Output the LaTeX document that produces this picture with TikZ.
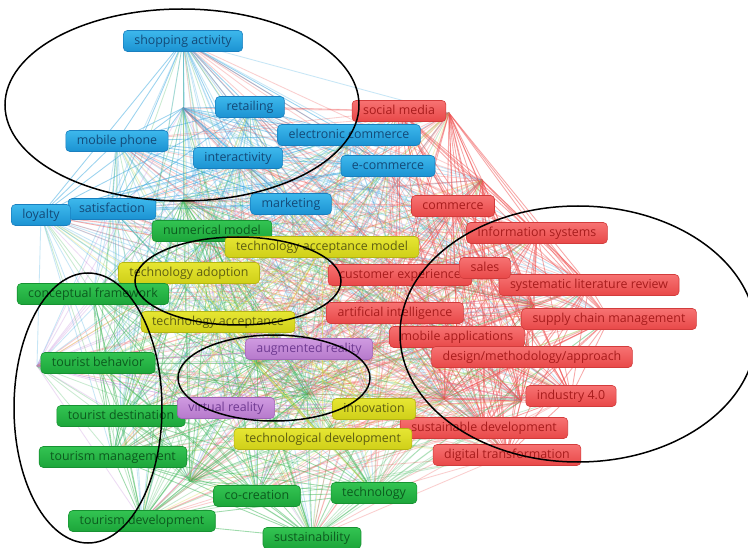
\documentclass[tikz,border=0pt]{standalone}
\usepackage{fontspec}
\newfontfamily\osans{Open Sans}
\pgfdeclarelayer{bg}
\pgfsetlayers{bg,main}
\definecolor{btop}{HTML}{3DB8EC}\definecolor{bbot}{HTML}{1B92D2}\definecolor{bdraw}{HTML}{1A7FBF}\definecolor{btext}{HTML}{134A78}
\definecolor{rtop}{HTML}{F77272}\definecolor{rbot}{HTML}{E84848}\definecolor{rdraw}{HTML}{D23C3C}\definecolor{rtext}{HTML}{A81C1C}
\definecolor{gtop}{HTML}{33C452}\definecolor{gbot}{HTML}{1CA53A}\definecolor{gdraw}{HTML}{179232}\definecolor{gtext}{HTML}{0C5A1E}
\definecolor{ytop}{HTML}{E6E633}\definecolor{ybot}{HTML}{CFCF18}\definecolor{ydraw}{HTML}{B5B512}\definecolor{ytext}{HTML}{5E5E12}
\definecolor{ptop}{HTML}{CF9AE0}\definecolor{pbot}{HTML}{B679CC}\definecolor{pdraw}{HTML}{A065B8}\definecolor{ptext}{HTML}{6F3A92}
\definecolor{eb}{HTML}{38A8E0}\definecolor{er}{HTML}{F05050}\definecolor{eg}{HTML}{40B85A}\definecolor{ey}{HTML}{D8D830}\definecolor{ep}{HTML}{C080D8}
\tikzset{
  lab/.style={rounded corners=4pt, minimum height=21pt, inner xsep=11pt, inner ysep=0pt,
    text height=8.6pt, text depth=2.4pt, font={\osans\fontsize{12.4pt}{14pt}\selectfont}, line width=0.6pt},
  bl/.style={lab, draw=bdraw, top color=btop, bottom color=bbot, text=btext},
  rd/.style={lab, draw=rdraw, top color=rtop, bottom color=rbot, text=rtext},
  gr/.style={lab, draw=gdraw, top color=gtop, bottom color=gbot, text=gtext},
  yl/.style={lab, draw=ydraw, top color=ytop, bottom color=ybot, text=ytext},
  pu/.style={lab, draw=pdraw, top color=ptop, bottom color=pbot, text=ptext},
  edge/.style={line width=0.85pt},
  ring/.style={draw=black, line width=1.5pt}
}
\begin{document}
\begin{tikzpicture}[x=1pt,y=-1pt]
\useasboundingbox (0,0) rectangle (748,548);
% hidden node centres
\coordinate (hb1) at (183,108);
\coordinate (hg1) at (183,200);
\coordinate (hr1) at (482,180);
\coordinate (hr2) at (449,113);
\coordinate (hp1) at (37,366);
\coordinate (hg2) at (257,363);
\coordinate (hg3) at (307,394);
\coordinate (hg4) at (190,481);
\coordinate (hr3) at (533,305);
\coordinate (hr4) at (444,399);
\coordinate (hr5) at (521,401);
% labels
\node[bl] (shop) at (183,41) {shopping activity};
\node[bl] (retail) at (250,107) {retailing};
\node[rd] (social) at (399,111) {social media};
\node[bl] (elcom) at (349,135) {electronic commerce};
\node[bl] (mobph) at (117,141) {mobile phone};
\node[bl] (inter) at (238,158) {interactivity};
\node[bl] (ecom) at (388,166) {e-commerce};
\node[bl] (satis) at (112,209) {satisfaction};
\node[bl] (loyal) at (41,215) {loyalty};
\node[bl] (mkt) at (291,204) {marketing};
\node[rd] (comm) at (453,206) {commerce};
\node[gr] (nummod) at (212,231) {numerical model};
\node[rd] (infos) at (537,233) {information systems};
\node[yl] (tam) at (322,247) {technology acceptance model};
\node[rd] (custx) at (400,275) {customer experience};
\node[rd] (slr) at (589,285) {systematic literature review};
\node[rd] (sales) at (485,268) {sales};
\node[yl] (tadopt) at (189,273) {technology adoption};
\node[gr] (concept) at (93,294) {conceptual framework};
\node[rd] (ai) at (395,313) {artificial intelligence};
\node[rd] (scm) at (609,319) {supply chain management};
\node[yl] (tacc) at (218,322) {technology acceptance};
\node[rd] (mobapp) at (457,337) {mobile applications};
\node[pu] (ar) at (309,349) {augmented reality};
\node[rd] (dma) at (532,357) {design/methodology/approach};
\node[gr] (tbeh) at (98,363) {tourist behavior};
\node[rd] (ind) at (571,396) {industry 4.0};
\node[gr] (tdest) at (121,416) {tourist destination};
\node[pu] (vr) at (226,408) {virtual reality};
\node[rd] (susdev) at (484,428) {sustainable development};
\node[yl] (innov) at (374,409) {innovation};
\node[yl] (techdev) at (323,439) {technological development};
\node[gr] (tman) at (113,457) {tourism management};
\node[rd] (digtr) at (507,455) {digital transformation};
\node[gr] (cocr) at (257,496) {co-creation};
\node[gr] (techn) at (374,493) {technology};
\node[gr] (tdev) at (142,521) {tourism development};
\node[gr] (sust) at (312,538) {sustainability};
% connectors
\def\nodelist{shop/eb,retail/eb,elcom/eb,mobph/eb,inter/eb,ecom/eb,loyal/eb,satis/eb,mkt/eb,hb1/eb,social/er,comm/er,infos/er,sales/er,custx/er,slr/er,ai/er,scm/er,mobapp/er,dma/er,ind/er,susdev/er,digtr/er,hr1/er,hr2/er,hr3/er,hr4/er,hr5/er,nummod/eg,concept/eg,tbeh/eg,tdest/eg,tman/eg,cocr/eg,techn/eg,tdev/eg,sust/eg,hg1/eg,hg2/eg,hg3/eg,hg4/eg,tam/ey,tadopt/ey,tacc/ey,innov/ey,techdev/ey,ar/ep,vr/ep,hp1/ep}
\begin{pgfonlayer}{bg}
\fill[white] (0,0) rectangle (748,548);
\foreach \a/\ca [count=\i] in \nodelist {
  \foreach \b/\cb [count=\j] in \nodelist {
    \ifnum\j>\i\relax
      \ifx\ca\cb
        \draw[edge, draw=\ca, draw opacity=0.5] (\a.center) -- (\b.center);
      \else
        \pgfmathtruncatemacro\k{mod(\i*7+\j*3,5)}
        \pgfmathtruncatemacro\s{mod(\i+\j,2)}
        \ifnum\k>0\relax
          \ifnum\s=0\relax
            \draw[edge, draw=\ca, draw opacity=0.28] (\a.center) -- (\b.center);
          \else
            \draw[edge, draw=\cb, draw opacity=0.28] (\a.center) -- (\b.center);
          \fi
        \fi
      \fi
    \fi
  }
}
\end{pgfonlayer}
% ellipses
\draw[ring] (182,105) ellipse [x radius=177pt, y radius=96pt];
\draw[ring] (238,281) ellipse [x radius=103pt, y radius=44pt];
\draw[ring] (274,378) ellipse [x radius=96pt, y radius=43pt];
\draw[ring] (88,408) ellipse [x radius=74pt, y radius=135pt];
\draw[ring] (578,334) ellipse [x radius=178pt, y radius=128pt];
\end{tikzpicture}
\end{document}
